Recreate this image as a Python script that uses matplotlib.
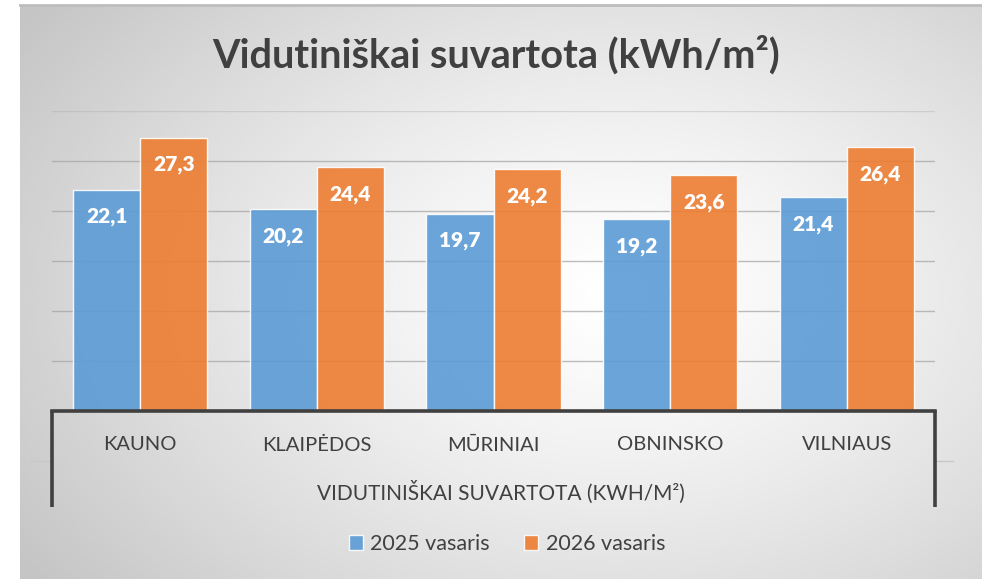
import numpy as np
import matplotlib
matplotlib.use("Agg")
import matplotlib.pyplot as plt
from matplotlib.patches import Patch

plt.rcParams['font.family'] = ['Lato', 'DejaVu Sans']

# === Data ===
categories = ["KAUNO", "KLAIPĖDOS", "MŪRINIAI", "OBNINSKO", "VILNIAUS"]
values_2025 = [22.1, 20.2, 19.7, 19.2, 21.4]
values_2026 = [27.3, 24.4, 24.2, 23.6, 26.4]
series_names = ["2025 vasaris", "2026 vasaris"]
group_label = "VIDUTINIŠKAI SUVARTOTA (KWH/M²)"
title = "Vidutiniškai suvartota (kWh/m²)"

W, H = 982, 579
DPI = 100
TEXT = "#404040"
BLUE = "#5B9BD5"
ORANGE = "#ED7D31"

fig = plt.figure(figsize=(W / DPI, H / DPI), dpi=DPI)
fig.patch.set_facecolor("white")

# === Radial gradient background (chart area) ===
bg = fig.add_axes([20 / W, 0, 1 - 20 / W, 1 - 5 / H])
bg.set_axis_off()
yy, xx = np.mgrid[0:1:300j, 0:1:500j]
r = np.sqrt(((xx - 0.62) / 0.75) ** 2 + ((yy - 0.5) / 0.85) ** 2)
r = np.clip(r, 0, 1)
shade = 1.0 - 0.23 * r ** 1.3
bg.imshow(shade, cmap="gray", vmin=0, vmax=1, aspect="auto",
          extent=[0, 1, 0, 1], origin="lower", interpolation="bicubic")
bg.set_xlim(0, 1)
bg.set_ylim(0, 1)
bg.plot([0, 1], [1, 1], color="#BDBDBD", lw=2, transform=bg.transAxes, clip_on=False)

# === Main axes ===
x0, x1 = 52, 935
y_top, y_bot = 111, 411
ax = fig.add_axes([x0 / W, (H - y_bot) / H, (x1 - x0) / W, (y_bot - y_top) / H])
ax.set_facecolor("none")
ax.set_xlim(-0.5, len(categories) - 0.5)
ax.set_ylim(0, 30)
ax.set_yticks(np.arange(5, 31, 5))
ax.yaxis.grid(True, color="#A6A6A6", lw=1, alpha=0.75)
ax.get_ygridlines()[-1].set_alpha(0.35)
ax.set_axisbelow(True)
ax.tick_params(left=False, labelleft=False, bottom=False, labelbottom=False)
for s in ax.spines.values():
    s.set_visible(False)

x = np.arange(len(categories))
bw = 0.38
b1 = ax.bar(x - bw / 2, values_2025, bw, color=BLUE, alpha=0.9,
            edgecolor=(1, 1, 1, 0.7), lw=1, zorder=2)
b2 = ax.bar(x + bw / 2, values_2026, bw, color=ORANGE, alpha=0.9,
            edgecolor=(1, 1, 1, 0.7), lw=1, zorder=2)

for bars, vals in ((b1, values_2025), (b2, values_2026)):
    for rect, v in zip(bars, vals):
        ax.annotate(f"{v:.1f}".replace(".", ","),
                    (rect.get_x() + rect.get_width() / 2, v),
                    xytext=(0, -27), textcoords="offset pixels",
                    ha="center", va="center", color="white",
                    fontsize=15, fontweight="heavy", zorder=3)

# === Multi-level category axis box ===
depth = (507 - 411) / (y_bot - y_top)
mid = (461 - 411) / (y_bot - y_top)
ax.plot([0, 1], [0, 0], color="#404040", lw=2.6, transform=ax.transAxes,
        clip_on=False, solid_capstyle="projecting", zorder=4)
for xe in (0, 1):
    ax.plot([xe, xe], [0, -depth], color="#404040", lw=2.6,
            transform=ax.transAxes, clip_on=False, solid_capstyle="butt", zorder=4)
ax.plot([-0.025, 0], [-mid, -mid], color="#C8C8C8", lw=1,
        transform=ax.transAxes, clip_on=False)
ax.plot([1, 1.02], [-mid, -mid], color="#C8C8C8", lw=1,
        transform=ax.transAxes, clip_on=False)

for xi, name in zip(x, categories):
    ax.annotate(name, (xi, 0), xytext=(0, -34), textcoords="offset pixels",
                ha="center", va="center", color=TEXT, fontsize=14.5,
                annotation_clip=False)
ax.text(0.5 + 7 / (x1 - x0), -(492 - 411) / (y_bot - y_top), group_label,
        transform=ax.transAxes, ha="center", va="center", color=TEXT, fontsize=15)

# === Title ===
fig.text(496 / W, 1 - 55 / H, title, ha="center", va="center",
         color=TEXT, fontsize=28.5, fontweight="bold")

# === Legend ===
handles = [Patch(facecolor=BLUE, alpha=0.9, edgecolor=(1, 1, 1, 0.7)),
           Patch(facecolor=ORANGE, alpha=0.9, edgecolor=(1, 1, 1, 0.7))]
leg = fig.legend(handles, series_names, loc="center", bbox_to_anchor=(507 / W, 1 - 544 / H),
                 ncol=2, frameon=False, fontsize=15.5, handlelength=0.65,
                 handleheight=0.65, handletextpad=0.35, columnspacing=1.6)
for t in leg.get_texts():
    t.set_color(TEXT)

fig.savefig("out.png", dpi=DPI)
